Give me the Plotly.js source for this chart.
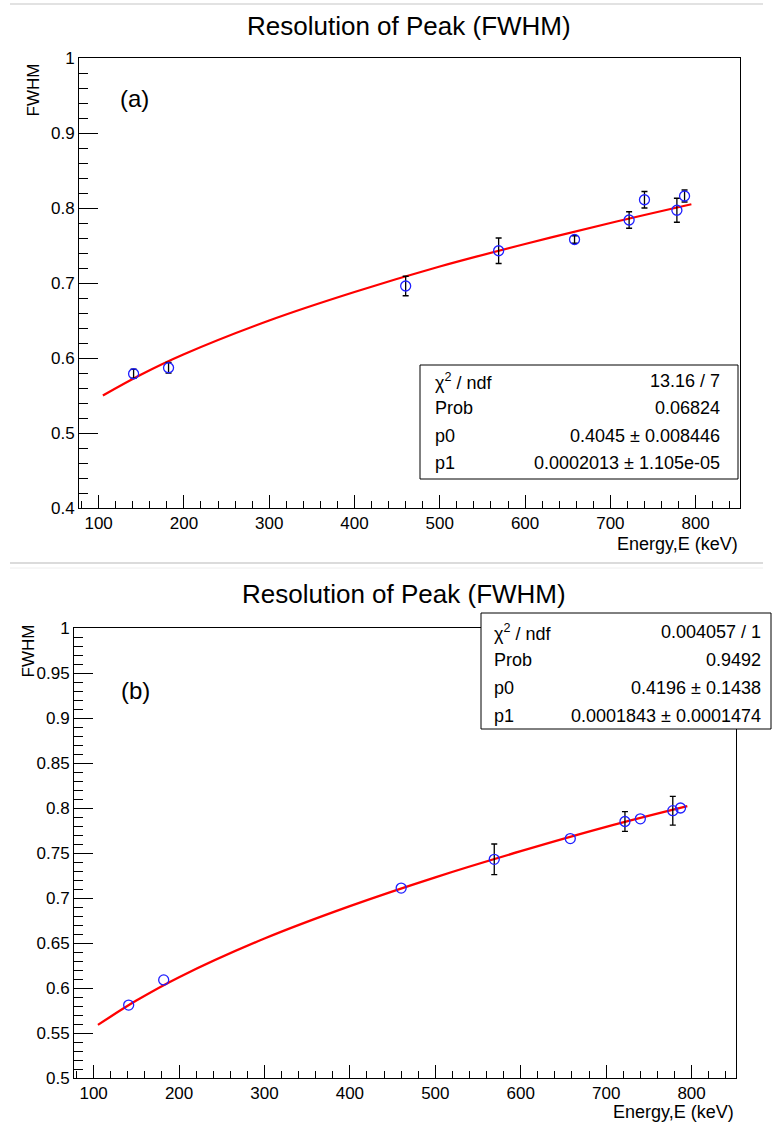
<!DOCTYPE html>
<html>
<head>
<meta charset="utf-8">
<script src="https://cdn.plot.ly/plotly-3.0.1.min.js"></script>
<style>html,body{margin:0;padding:0;background:#fff;}#chart{width:772px;height:1131px;}</style>
</head>
<body>
<div id="chart"></div>
<script>
// ---- data ----
const energyA = [141, 182, 460, 569, 658, 722, 740, 778, 787];
const fwhmA   = [0.579, 0.587, 0.696, 0.743, 0.758, 0.784, 0.811, 0.797, 0.816];
const errA    = [0.006, 0.007, 0.013, 0.017, 0.005, 0.011, 0.011, 0.016, 0.008];

const energyB = [141, 182, 460, 569, 658, 722, 740, 778, 787];
const fwhmB   = [0.581, 0.609, 0.711, 0.743, 0.766, 0.785, 0.788, 0.797, 0.800];
const errB    = [null, null, null, 0.017, null, 0.011, null, 0.016, null];

const fitE  = [105, 150, 200, 300, 400, 500, 600, 700, 795];
const fitA  = [0.550, 0.578, 0.605, 0.650, 0.688, 0.722, 0.752, 0.780, 0.805];
const fitB  = [0.559, 0.586, 0.612, 0.655, 0.691, 0.723, 0.752, 0.779, 0.802];

const titleText = "Resolution of Peak (FWHM)";
const xTitle = "Energy,E (keV)";
const yTitle = "FWHM";
const statsLabels = ["χ<sup>2</sup> / ndf", "Prob", "p0", "p1"];
const statsA = ["13.16 / 7", "0.06824", "0.4045 ± 0.008446", "0.0002013 ± 1.105e-05"];
const statsB = ["0.004057 / 1", "0.9492", "0.4196 ± 0.1438", "0.0001843 ± 0.0001474"];

// ---- layout helpers ----
const W = 772, H = 1131;
const px = x => x / W;
const py = y => 1 - y / H;
const FONT = "Liberation Sans, Arial, Helvetica, sans-serif";

const markerStyle = {symbol: "circle-open", size: 10, color: "#1f1fff", line: {width: 1.3, color: "#1f1fff"}};
const errStyle = {color: "black", thickness: 1.3, width: 3};
const fitLine = {color: "#ff0000", width: 2.3, shape: "spline", smoothing: 1};

// split panel (b) into points with and without error bars
const idxErrB = errB.map((e, i) => e === null ? -1 : i).filter(i => i >= 0);
const idxNoErrB = errB.map((e, i) => e === null ? i : -1).filter(i => i >= 0);

const traces = [
  {x: fitE, y: fitA, mode: "lines", line: fitLine, xaxis: "x", yaxis: "y", hoverinfo: "skip"},
  {x: energyA, y: fwhmA, mode: "markers", marker: markerStyle,
   error_y: Object.assign({type: "data", array: errA, visible: true}, errStyle), xaxis: "x", yaxis: "y"},
  {x: fitE, y: fitB, mode: "lines", line: fitLine, xaxis: "x2", yaxis: "y2", hoverinfo: "skip"},
  {x: idxErrB.map(i => energyB[i]), y: idxErrB.map(i => fwhmB[i]), mode: "markers", marker: markerStyle,
   error_y: Object.assign({type: "data", array: idxErrB.map(i => errB[i]), visible: true}, errStyle), xaxis: "x2", yaxis: "y2"},
  {x: idxNoErrB.map(i => energyB[i]), y: idxNoErrB.map(i => fwhmB[i]), mode: "markers", marker: markerStyle,
   xaxis: "x2", yaxis: "y2"}
];

const TICKFONT = {family: FONT, size: 17, color: "black"};
function xAxis(domain, anchor) {
  return {domain: domain, anchor: anchor, range: [77, 852], autorange: false,
    showline: true, linecolor: "black", linewidth: 1, mirror: true,
    ticks: "inside", ticklen: 13, tickwidth: 1, tickcolor: "black", tick0: 0, dtick: 100,
    minor: {dtick: 20, ticks: "inside", ticklen: 7, tickwidth: 1, tickcolor: "black", showgrid: false},
    showgrid: false, zeroline: false, tickfont: TICKFONT};
}
function yAxis(domain, anchor, range, dtick, minor) {
  return {domain: domain, anchor: anchor, range: range, autorange: false,
    showline: true, linecolor: "black", linewidth: 1, mirror: true,
    ticks: "inside", ticklen: 19, tickwidth: 1, tickcolor: "black", tick0: 0, dtick: dtick,
    minor: {dtick: minor, ticks: "inside", ticklen: 9, tickwidth: 1, tickcolor: "black", showgrid: false},
    showgrid: false, zeroline: false, tickfont: TICKFONT};
}

const annotations = [];
const shapes = [];
function txt(text, x, y, size, opts) {
  annotations.push(Object.assign({text: text, x: px(x), y: py(y), xref: "paper", yref: "paper",
    showarrow: false, xanchor: "center", yanchor: "middle",
    font: {family: FONT, size: size, color: "black"}}, opts || {}));
}

// titles
txt(titleText, 409, 26, 26);
txt(titleText, 404, 594, 26);
// panel labels
txt("(a)", 134, 98, 24);
txt("(b)", 135, 690, 24);
// axis titles
txt(yTitle, 33, 62, 17, {textangle: -90, yanchor: "top"});
txt(yTitle, 28, 622, 17, {textangle: -90, yanchor: "top"});
txt(xTitle, 740, 544, 18, {xanchor: "right"});
txt(xTitle, 736, 1112, 18, {xanchor: "right"});

// stats boxes
function statsBox(x0, y0, x1, y1, values, leftX, rightX, rowY) {
  shapes.push({type: "rect", xref: "paper", yref: "paper", x0: px(x0), x1: px(x1), y0: py(y1), y1: py(y0),
    line: {color: "black", width: 1}, fillcolor: "white", layer: "above"});
  for (let i = 0; i < statsLabels.length; i++) {
    txt(statsLabels[i], leftX, rowY[i], 18, {xanchor: "left"});
    txt(values[i], rightX, rowY[i], 18, {xanchor: "right"});
  }
}
statsBox(420, 365, 738, 479, statsA, 433, 722, [381, 408, 436, 463]);
statsBox(481, 613, 771, 729, statsB, 492, 763, [632, 660, 688, 716]);

// screenshot separator lines
shapes.push({type: "line", xref: "paper", yref: "paper", x0: px(10), x1: px(763), y0: py(4), y1: py(4), line: {color: "#d9d9d9", width: 1.5}});
shapes.push({type: "line", xref: "paper", yref: "paper", x0: px(10), x1: px(763), y0: py(563), y1: py(563), line: {color: "#cfcfcf", width: 1.5}});
shapes.push({type: "line", xref: "paper", yref: "paper", x0: px(10), x1: px(763), y0: py(568), y1: py(568), line: {color: "#eeeeee", width: 1}});

const layout = {
  width: W, height: H, margin: {l: 0, r: 0, t: 0, b: 0},
  paper_bgcolor: "white", plot_bgcolor: "white", showlegend: false,
  font: {family: FONT, color: "black"},
  xaxis: xAxis([px(79), px(740)], "y"),
  yaxis: yAxis([py(508), py(58)], "x", [0.4, 1], 0.1, 0.02),
  xaxis2: xAxis([px(74), px(736)], "y2"),
  yaxis2: yAxis([py(1078), py(628)], "x2", [0.5, 1], 0.05, 0.01),
  annotations: annotations, shapes: shapes
};

Plotly.newPlot("chart", traces, layout, {staticPlot: true, displayModeBar: false});
</script>
</body>
</html>
